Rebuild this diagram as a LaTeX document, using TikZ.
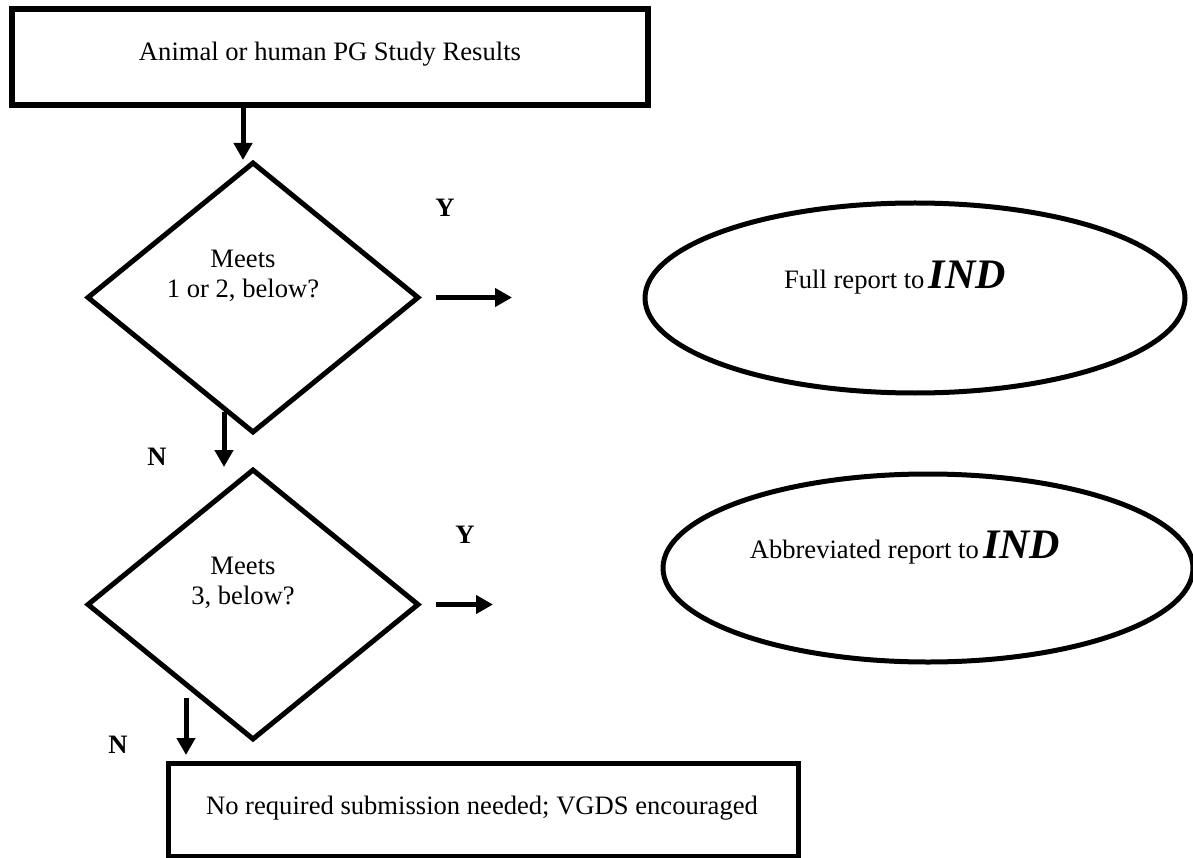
\documentclass[tikz,border=0pt]{standalone}
\usepackage{fontspec}
\setmainfont{Liberation Serif}
\usetikzlibrary{shapes.geometric,arrows.meta,positioning}

\begin{document}
\begin{tikzpicture}[x=1pt,y=-1pt,
    font=\fontsize{26.6}{30.5}\selectfont,
    decision/.style={draw,diamond,line width=5pt,minimum width=332pt,minimum height=271pt,inner sep=0pt},
    report/.style={draw,ellipse,line width=5pt,inner sep=0pt},
    arr/.style={line width=5pt,-{Triangle[length=17pt,width=18pt]}},
    yn/.style={font=\fontsize{26.6}{30.5}\selectfont\bfseries}]
    \useasboundingbox (0,0) rectangle (1193,858);

    \node[draw,line width=6pt,minimum width=636pt,minimum height=96pt] at (330,57) (results) {};
    \node at (330,54) (resultstxt) {Animal or human PG Study Results};

    \node[decision] at (253,297.5) (meets1) {};
    \node[align=center] at (243,276) (meets1txt) {Meets\\1 or 2, below?};
    \node[decision] at (253,604.5) (meets2) {};
    \node[align=center] at (243,583) (meets2txt) {Meets\\3, below?};

    \node[report,minimum width=540pt,minimum height=190pt] at (915,298) (full) {};
    \node[anchor=base] at (895,289) (fulltxt) {Full report to\,\textbf{\textit{\fontsize{42}{42}\selectfont IND}}};
    \node[report,minimum width=530pt,minimum height=188pt] at (928,568) (abbr) {};
    \node[anchor=base] at (905,558) (abbrtxt) {Abbreviated report to\,\textbf{\textit{\fontsize{42}{42}\selectfont IND}}};

    \node[draw,line width=5pt,minimum width=630pt,minimum height=93pt] at (483,810) (nosub) {};
    \node at (482,808) (nosubtxt) {No required submission needed; VGDS encouraged};

    % yes / no marks
    \node[yn] at (445,208) (yes1) {Y};
    \node[yn] at (465,535) (yes2) {Y};
    \node[yn] at (157,457) (no1) {N};
    \node[yn] at (118,745) (no2) {N};

    % arrows
    \coordinate (a1) at (243,160);
    \draw[arr] (a1 |- results.south) -- (a1);
    \coordinate (y1end) at (512,297.5);
    \draw[arr] ([xshift=14pt]meets1.east) -- (y1end);
    \coordinate (n1top) at (224,412);
    \coordinate (n1end) at (224,467);
    \draw[arr] (n1top) -- (n1end);
    \coordinate (y2end) at (493,604.5);
    \draw[arr] ([xshift=14pt]meets2.east) -- (y2end);
    \coordinate (n2top) at (186,698);
    \draw[arr,shorten >=6pt] (n2top) -- (n2top |- nosub.north);
\end{tikzpicture}
\end{document}
